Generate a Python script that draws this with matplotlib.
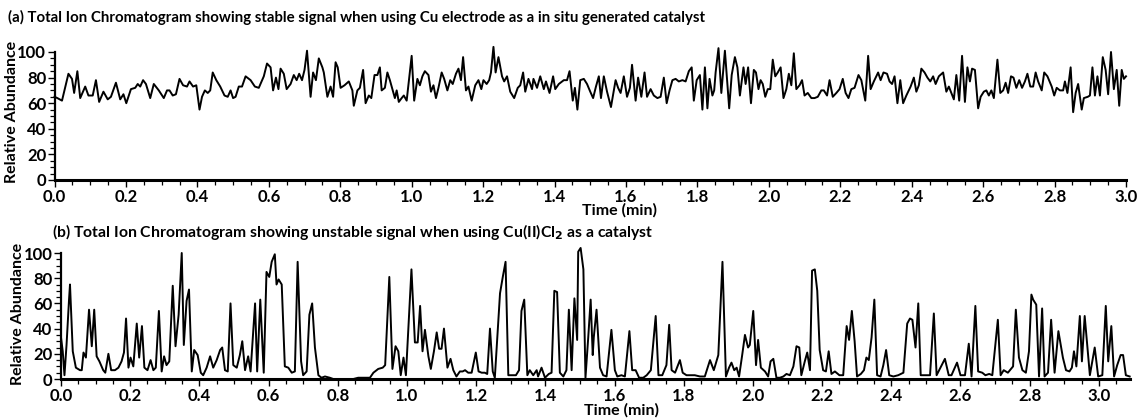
"""
Two stacked total ion chromatograms: stable (Cu electrode) vs unstable (CuCl2) signal.
"""

import matplotlib
matplotlib.use("Agg")
import matplotlib.pyplot as plt
from matplotlib.ticker import MultipleLocator

# --- (a) Cu electrode, in situ generated catalyst ---
top_time = [
    0.000, 0.008, 0.021, 0.039, 0.049, 0.055, 0.064, 0.072, 0.086, 0.095,
    0.107, 0.116, 0.125, 0.137, 0.149, 0.158, 0.172, 0.184, 0.193, 0.201,
    0.214, 0.226, 0.233, 0.240, 0.248, 0.256, 0.268, 0.278, 0.292, 0.306,
    0.315, 0.322, 0.331, 0.340, 0.350, 0.360, 0.371, 0.378, 0.388, 0.397,
    0.406, 0.413, 0.421, 0.429, 0.436, 0.443, 0.453, 0.464, 0.476, 0.485,
    0.493, 0.500, 0.507, 0.516, 0.525, 0.535, 0.549, 0.561, 0.572, 0.586,
    0.595, 0.605, 0.612, 0.620, 0.627, 0.633, 0.642, 0.650, 0.661, 0.670,
    0.678, 0.685, 0.693, 0.700, 0.707, 0.717, 0.724, 0.732, 0.740, 0.750,
    0.754, 0.764, 0.773, 0.780, 0.787, 0.793, 0.801, 0.812, 0.824, 0.834,
    0.838, 0.848, 0.855, 0.864, 0.871, 0.880, 0.887, 0.896, 0.904, 0.911,
    0.916, 0.925, 0.932, 0.939, 0.947, 0.953, 0.958, 0.964, 0.972, 0.978,
    0.986, 1.000, 1.007, 1.016, 1.023, 1.030, 1.037, 1.047, 1.054, 1.061,
    1.068, 1.075, 1.084, 1.091, 1.100, 1.108, 1.115, 1.124, 1.131, 1.138,
    1.144, 1.152, 1.159, 1.168, 1.178, 1.187, 1.195, 1.201, 1.210, 1.217,
    1.222, 1.229, 1.235, 1.243, 1.253, 1.259, 1.267, 1.276, 1.287, 1.297,
    1.304, 1.312, 1.318, 1.327, 1.337, 1.341, 1.351, 1.360, 1.370, 1.376,
    1.386, 1.396, 1.402, 1.412, 1.426, 1.435, 1.442, 1.451, 1.457, 1.464,
    1.472, 1.482, 1.491, 1.500, 1.508, 1.516, 1.524, 1.530, 1.538, 1.547,
    1.558, 1.571, 1.578, 1.585, 1.594, 1.603, 1.611, 1.617, 1.627, 1.634,
    1.643, 1.652, 1.659, 1.669, 1.678, 1.688, 1.697, 1.706, 1.714, 1.722,
    1.730, 1.739, 1.748, 1.758, 1.767, 1.776, 1.784, 1.790, 1.798, 1.807,
    1.814, 1.821, 1.828, 1.834, 1.842, 1.847, 1.851, 1.859, 1.867, 1.877,
    1.889, 1.896, 1.905, 1.912, 1.919, 1.929, 1.935, 1.942, 1.950, 1.958,
    1.964, 1.971, 1.977, 1.983, 1.990, 1.997, 2.004, 2.011, 2.018, 2.025,
    2.033, 2.041, 2.049, 2.056, 2.063, 2.070, 2.077, 2.086, 2.093, 2.100,
    2.109, 2.119, 2.128, 2.137, 2.147, 2.154, 2.163, 2.170, 2.179, 2.189,
    2.198, 2.207, 2.215, 2.223, 2.231, 2.240, 2.251, 2.259, 2.270, 2.278,
    2.285, 2.294, 2.306, 2.313, 2.321, 2.331, 2.338, 2.345, 2.352, 2.360,
    2.368, 2.376, 2.385, 2.397, 2.406, 2.413, 2.420, 2.427, 2.436, 2.444,
    2.452, 2.460, 2.467, 2.476, 2.488, 2.497, 2.504, 2.511, 2.518, 2.525,
    2.533, 2.541, 2.549, 2.556, 2.563, 2.569, 2.577, 2.586, 2.593, 2.602,
    2.609, 2.616, 2.623, 2.630, 2.640, 2.648, 2.656, 2.663, 2.670, 2.678,
    2.685, 2.693, 2.701, 2.709, 2.717, 2.724, 2.732, 2.740, 2.747, 2.754,
    2.764, 2.771, 2.780, 2.792, 2.799, 2.806, 2.815, 2.824, 2.829, 2.836,
    2.845, 2.852, 2.859, 2.866, 2.876, 2.882, 2.893, 2.899, 2.906, 2.913,
    2.920, 2.927, 2.935, 2.943, 2.950, 2.958, 2.966, 2.974, 2.981, 2.988,
    2.994, 3.000,
]
top_abund = [
    65, 64, 62, 83, 79, 68, 85, 64, 73, 66,
    66, 78, 61, 69, 63, 65, 76, 63, 67, 60,
    71, 72, 75, 73, 78, 75, 64, 75, 70, 64,
    70, 70, 66, 67, 79, 74, 73, 77, 73, 74,
    55, 65, 70, 68, 70, 84, 78, 73, 66, 65,
    70, 64, 65, 73, 73, 81, 78, 73, 72, 81,
    91, 88, 70, 80, 71, 87, 83, 71, 75, 82,
    78, 83, 78, 86, 101, 65, 84, 78, 95, 88,
    84, 65, 73, 65, 92, 88, 72, 74, 77, 70,
    58, 70, 72, 86, 60, 66, 64, 82, 82, 88,
    70, 72, 84, 78, 70, 64, 70, 61, 64, 66,
    62, 97, 62, 79, 74, 81, 85, 82, 69, 74,
    64, 72, 84, 79, 70, 78, 75, 83, 87, 78,
    96, 70, 73, 62, 74, 78, 71, 78, 75, 78,
    84, 104, 84, 96, 81, 77, 81, 69, 64, 72,
    74, 84, 69, 79, 71, 79, 72, 81, 71, 77,
    68, 81, 71, 75, 78, 78, 85, 62, 72, 55,
    78, 79, 75, 69, 64, 73, 81, 64, 81, 69,
    57, 78, 72, 68, 81, 65, 72, 90, 62, 80,
    65, 84, 65, 71, 66, 64, 65, 80, 60, 70,
    78, 79, 77, 78, 77, 85, 88, 62, 78, 82,
    55, 88, 56, 79, 66, 70, 84, 103, 68, 101,
    56, 82, 96, 88, 66, 88, 75, 88, 60, 86,
    84, 71, 78, 75, 65, 71, 71, 94, 81, 84,
    88, 64, 71, 83, 74, 99, 71, 74, 78, 66,
    68, 64, 64, 65, 70, 70, 66, 78, 65, 68,
    71, 79, 68, 64, 71, 72, 82, 78, 62, 97,
    71, 77, 84, 78, 84, 83, 77, 75, 81, 60,
    78, 60, 66, 73, 80, 69, 74, 87, 84, 80,
    77, 81, 75, 81, 84, 69, 73, 68, 63, 82,
    62, 97, 61, 88, 77, 87, 86, 56, 65, 69,
    70, 66, 70, 64, 94, 68, 70, 76, 68, 81,
    80, 72, 78, 72, 77, 83, 73, 73, 84, 77,
    70, 84, 81, 73, 66, 72, 70, 70, 77, 68,
    88, 53, 68, 75, 55, 64, 65, 66, 88, 66,
    81, 66, 96, 86, 67, 100, 71, 86, 58, 86,
    79, 81,
]

# --- (b) Cu(II)Cl2 catalyst ---
bot_time = [
    0.000, 0.005, 0.010, 0.016, 0.023, 0.026, 0.034, 0.043, 0.055, 0.060,
    0.065, 0.072, 0.081, 0.089, 0.096, 0.103, 0.111, 0.122, 0.128, 0.137,
    0.145, 0.156, 0.166, 0.175, 0.182, 0.188, 0.195, 0.201, 0.209, 0.219,
    0.226, 0.234, 0.241, 0.250, 0.259, 0.267, 0.274, 0.283, 0.291, 0.298,
    0.305, 0.313, 0.323, 0.331, 0.340, 0.349, 0.355, 0.363, 0.370, 0.378,
    0.385, 0.395, 0.404, 0.411, 0.421, 0.431, 0.440, 0.450, 0.460, 0.466,
    0.474, 0.482, 0.490, 0.498, 0.508, 0.517, 0.524, 0.532, 0.541, 0.548,
    0.561, 0.567, 0.576, 0.586, 0.594, 0.602, 0.609, 0.618, 0.623, 0.629,
    0.638, 0.647, 0.657, 0.667, 0.676, 0.684, 0.694, 0.700, 0.710, 0.718,
    0.726, 0.734, 0.744, 0.753, 0.763, 0.777, 0.787, 0.845, 0.859, 0.869,
    0.893, 0.903, 0.917, 0.930, 0.937, 0.949, 0.958, 0.967, 0.975, 0.982,
    0.990, 0.997, 1.013, 1.023, 1.031, 1.038, 1.045, 1.052, 1.062, 1.069,
    1.078, 1.086, 1.093, 1.100, 1.107, 1.117, 1.126, 1.134, 1.143, 1.153,
    1.161, 1.168, 1.177, 1.187, 1.199, 1.207, 1.216, 1.225, 1.232, 1.240,
    1.248, 1.254, 1.269, 1.277, 1.285, 1.293, 1.302, 1.315, 1.324, 1.331,
    1.339, 1.348, 1.355, 1.365, 1.375, 1.379, 1.389, 1.399, 1.410, 1.418,
    1.426, 1.434, 1.442, 1.452, 1.461, 1.468, 1.476, 1.484, 1.492, 1.495,
    1.502, 1.510, 1.516, 1.524, 1.531, 1.537, 1.540, 1.548, 1.558, 1.567,
    1.577, 1.591, 1.601, 1.608, 1.620, 1.630, 1.643, 1.651, 1.661, 1.671,
    1.683, 1.693, 1.705, 1.719, 1.727, 1.738, 1.750, 1.758, 1.765, 1.775,
    1.789, 1.797, 1.808, 1.832, 1.847, 1.861, 1.876, 1.887, 1.900, 1.912,
    1.922, 1.931, 1.938, 1.946, 1.953, 1.960, 1.969, 1.977, 1.986, 1.991,
    2.001, 2.009, 2.015, 2.023, 2.035, 2.044, 2.051, 2.059, 2.068, 2.078,
    2.088, 2.097, 2.107, 2.117, 2.126, 2.134, 2.140, 2.150, 2.157, 2.165,
    2.171, 2.179, 2.186, 2.193, 2.203, 2.211, 2.219, 2.227, 2.237, 2.250,
    2.261, 2.271, 2.278, 2.286, 2.294, 2.301, 2.312, 2.321, 2.328, 2.335,
    2.343, 2.351, 2.359, 2.369, 2.377, 2.385, 2.394, 2.406, 2.420, 2.435,
    2.446, 2.454, 2.461, 2.470, 2.478, 2.485, 2.497, 2.512, 2.523, 2.531,
    2.542, 2.555, 2.566, 2.574, 2.590, 2.600, 2.613, 2.624, 2.632, 2.643,
    2.651, 2.663, 2.672, 2.683, 2.692, 2.708, 2.716, 2.725, 2.737, 2.752,
    2.760, 2.769, 2.779, 2.789, 2.798, 2.805, 2.810, 2.819, 2.827, 2.836,
    2.843, 2.853, 2.862, 2.872, 2.883, 2.896, 2.905, 2.915, 2.922, 2.928,
    2.935, 2.945, 2.951, 2.959, 2.974, 2.988, 2.998, 3.010, 3.020, 3.027,
    3.036, 3.044, 3.053, 3.063, 3.070, 3.078, 3.089,
]
bot_abund = [
    33, 22, 3, 27, 62, 75, 22, 9, 7, 7,
    21, 17, 55, 26, 55, 18, 14, 7, 5, 20,
    7, 7, 9, 14, 21, 48, 9, 17, 10, 44,
    17, 42, 9, 7, 15, 7, 9, 54, 6, 18,
    11, 14, 74, 26, 51, 100, 27, 62, 71, 6,
    23, 19, 5, 3, 9, 18, 9, 15, 23, 25,
    7, 6, 60, 11, 9, 19, 30, 7, 18, 6,
    60, 6, 63, 5, 85, 81, 93, 99, 75, 79,
    75, 10, 9, 5, 6, 93, 14, 3, 6, 51,
    60, 25, 3, 1, 2, 1, 0, 0, 1, 1,
    1, 5, 8, 9, 11, 81, 8, 26, 22, 3,
    17, 3, 87, 29, 29, 58, 22, 39, 18, 8,
    22, 37, 24, 24, 40, 9, 16, 7, 2, 6,
    6, 7, 5, 5, 21, 6, 5, 5, 4, 40,
    6, 1, 68, 81, 93, 3, 3, 3, 7, 54,
    63, 3, 7, 3, 7, 2, 9, 1, 4, 5,
    70, 69, 5, 2, 7, 55, 7, 64, 31, 101,
    104, 87, 1, 33, 63, 19, 33, 55, 9, 3,
    2, 39, 7, 2, 3, 2, 38, 7, 7, 1,
    1, 3, 7, 50, 3, 3, 11, 43, 7, 5,
    15, 5, 3, 3, 2, 2, 15, 7, 19, 93,
    2, 9, 13, 7, 9, 2, 19, 35, 25, 27,
    54, 11, 31, 9, 6, 2, 14, 16, 1, 1,
    2, 4, 3, 10, 26, 25, 3, 14, 21, 7,
    86, 87, 70, 23, 7, 6, 22, 4, 6, 3,
    3, 42, 31, 54, 30, 2, 4, 7, 17, 15,
    33, 63, 3, 2, 11, 23, 3, 2, 3, 5,
    44, 48, 47, 25, 60, 3, 3, 3, 52, 3,
    9, 16, 3, 3, 13, 3, 3, 28, 2, 58,
    6, 5, 3, 4, 3, 47, 3, 7, 5, 10,
    55, 17, 7, 5, 22, 67, 63, 59, 2, 56,
    2, 5, 47, 5, 38, 17, 7, 6, 9, 22,
    10, 50, 14, 50, 3, 25, 2, 3, 58, 14,
    42, 2, 11, 19, 19, 3, 2,
]

plt.rcParams['font.family'] = ['Lato', 'DejaVu Sans']
plt.rcParams['font.weight'] = 'bold'

fig = plt.figure(figsize=(11.4, 4.18), dpi=100)
W, H = 1140.0, 418.0


def style_axis(ax, xmax):
    ax.set_xlim(0, xmax)
    ax.set_ylim(0, 100)
    for side in ('top', 'right'):
        ax.spines[side].set_visible(False)
    ax.spines['left'].set_linewidth(1.6)
    ax.spines['bottom'].set_linewidth(2.2)
    ax.xaxis.set_major_locator(MultipleLocator(0.2))
    ax.xaxis.set_minor_locator(MultipleLocator(0.05))
    ax.yaxis.set_major_locator(MultipleLocator(20))
    ax.yaxis.set_minor_locator(MultipleLocator(5))
    ax.tick_params(which='major', length=5, width=1.0, labelsize=12, pad=1.5)
    ax.tick_params(which='minor', length=3.5, width=0.9)
    ax.tick_params(axis='y', pad=1)
    ax.xaxis.set_major_formatter(plt.FormatStrFormatter('%.1f'))
    for lab in ax.get_xticklabels() + ax.get_yticklabels():
        lab.set_fontweight('bold')


# top panel
ax1 = fig.add_axes([54.5 / W, 1 - 180 / H, (1126 - 54.5) / W, 128 / H])
ax1.plot(top_time, top_abund, color='black', lw=1.4, clip_on=False)
style_axis(ax1, 3.0)

# bottom panel
ax2 = fig.add_axes([61 / W, 1 - 379 / H, (1130 - 61) / W, 126 / H])
ax2.plot(bot_time, bot_abund, color='black', lw=1.4, clip_on=False)
style_axis(ax2, 3.09)

fig.text(8 / W, 1 - 17 / H,
         '(a) Total Ion Chromatogram showing stable signal when using Cu electrode as a in situ generated catalyst',
         fontsize=10.8, fontweight='bold', va='center', ha='left')
fig.text(52 / W, 1 - 232 / H,
         '(b) Total Ion Chromatogram showing unstable signal when using Cu(II)Cl$_\\mathbf{2}$ as a catalyst',
         fontsize=11.3, fontweight='bold', va='center', ha='left')

fig.text(619 / W, 1 - 210 / H, 'Time (min)', fontsize=11.5, fontweight='bold', ha='center', va='center')
fig.text(621 / W, 1 - 410 / H, 'Time (min)', fontsize=11.5, fontweight='bold', ha='center', va='center')

fig.text(12 / W, 1 - 112 / H, 'Relative Abundance', fontsize=11.5, fontweight='bold',
         rotation=90, ha='center', va='center')
fig.text(18 / W, 1 - 314 / H, 'Relative Abundance', fontsize=11.5, fontweight='bold',
         rotation=90, ha='center', va='center')

fig.savefig('out.png', dpi=100)
